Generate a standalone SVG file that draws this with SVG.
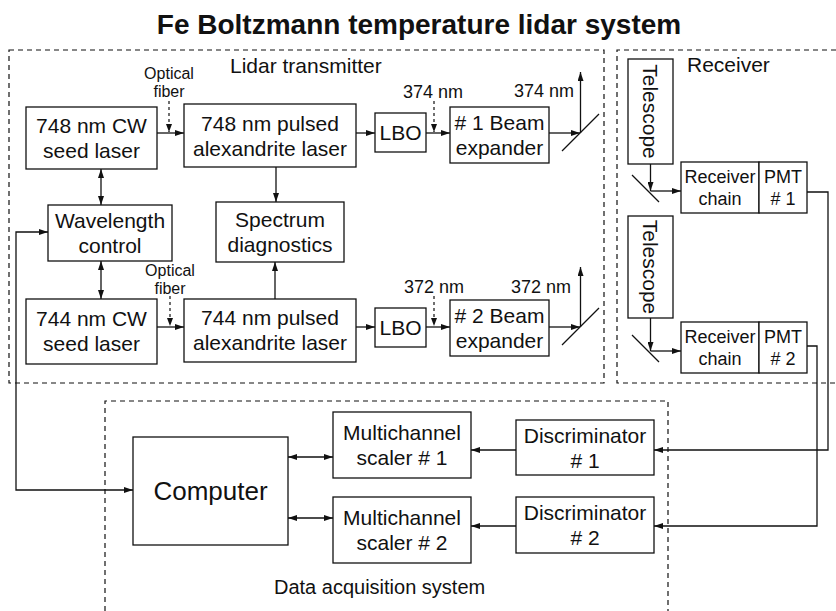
<svg xmlns="http://www.w3.org/2000/svg" width="836" height="611" viewBox="0 0 836 611">
<defs>
<marker id="ah" viewBox="0 0 9 6" refX="9" refY="3" markerWidth="9" markerHeight="6" markerUnits="userSpaceOnUse" orient="auto-start-reverse">
<path d="M0,0 L9,3 L0,6 z" fill="#111"/>
</marker>
<marker id="ahs" viewBox="0 0 8 6" refX="8" refY="3" markerWidth="8" markerHeight="6" markerUnits="userSpaceOnUse" orient="auto-start-reverse">
<path d="M0,0 L8,3 L0,6 z" fill="#111"/>
</marker>
</defs>
<style>
text{font-family:"Liberation Sans",Arial,sans-serif;fill:#111}
.t{font-size:21px;text-anchor:middle}
.s{font-size:18px;text-anchor:middle}
.f{font-size:16px;text-anchor:middle}
.lbl{font-size:21px}
.title{font-size:28px;font-weight:bold;text-anchor:middle}
.box{fill:#fff;stroke:#111;stroke-width:1.3}
.grp{fill:none;stroke:#111;stroke-width:1.2;stroke-dasharray:5,4}
.c{fill:none;stroke:#111;stroke-width:1.3}
.a{marker-end:url(#ah)}
.d{marker-start:url(#ah);marker-end:url(#ah)}
.fib{fill:none;stroke:#111;stroke-width:1.2;stroke-dasharray:3,3;marker-end:url(#ahs)}
.m{stroke:#111;stroke-width:1.3}
</style>
<rect width="836" height="611" fill="#fff"/>
<text class="title" x="419" y="34">Fe Boltzmann temperature lidar system</text>

<g id="groups">
<rect class="grp" x="9" y="50" width="595" height="333"/>
<path class="grp" d="M836,50 H617 V383 H836"/>
<path class="grp" d="M105,611 V401 H668 V611"/>
<text class="lbl" x="230" y="73">Lidar transmitter</text>
<text class="lbl" x="687" y="72">Receiver</text>
<text class="lbl" x="274" y="594" style="font-size:20px">Data acquisition system</text>
</g>

<g id="connectors">
<line class="c a" x1="157" y1="133" x2="184" y2="133"/>
<line class="fib" x1="169" y1="101" x2="169" y2="132"/>
<line class="c a" x1="356" y1="133" x2="375" y2="133"/>
<line class="c a" x1="426" y1="133" x2="450" y2="133"/>
<line class="fib" x1="434" y1="101" x2="434" y2="132"/>
<line class="c a" x1="549" y1="133" x2="580" y2="133"/>
<line class="c a" x1="580.5" y1="133" x2="580.5" y2="72"/>
<line class="m" x1="562" y1="151" x2="599" y2="114"/>
<line class="c d" x1="101" y1="169" x2="101" y2="205"/>
<line class="c a" x1="276" y1="167" x2="276" y2="202"/>
<line class="c d" x1="101" y1="261" x2="101" y2="299"/>
<line class="c a" x1="275" y1="299" x2="275" y2="262"/>
<line class="c a" x1="157" y1="327" x2="184" y2="327"/>
<line class="fib" x1="170" y1="296" x2="170" y2="326"/>
<line class="c a" x1="356" y1="327" x2="375" y2="327"/>
<line class="c a" x1="426" y1="327" x2="450" y2="327"/>
<line class="fib" x1="434" y1="296" x2="434" y2="326"/>
<line class="c a" x1="549" y1="327" x2="580" y2="327"/>
<line class="c a" x1="580.5" y1="327" x2="580.5" y2="267"/>
<line class="m" x1="562" y1="345" x2="599" y2="308"/>
<line class="c a" x1="650.5" y1="164" x2="650.5" y2="191"/>
<line class="m" x1="632" y1="175" x2="659" y2="202"/>
<line class="c a" x1="650.5" y1="191" x2="681" y2="191"/>
<line class="c a" x1="650.5" y1="318" x2="650.5" y2="351"/>
<line class="m" x1="632" y1="335" x2="659" y2="362"/>
<line class="c a" x1="650.5" y1="351" x2="681" y2="351"/>
<polyline class="c a" points="807,192 828,192 828,450 654,450"/>
<polyline class="c a" points="807,346 817,346 817,526 654,526"/>
<polyline class="c d" points="48,232 16,232 16,490 133,490"/>
<line class="c d" x1="288" y1="457" x2="333" y2="457"/>
<line class="c d" x1="288" y1="518" x2="333" y2="518"/>
<line class="c a" x1="516" y1="450" x2="471" y2="450"/>
<line class="c a" x1="516" y1="526" x2="471" y2="526"/>
<text class="f" x="169" y="79">Optical</text>
<text class="f" x="169" y="97">fiber</text>
<text class="f" x="170" y="276">Optical</text>
<text class="f" x="170" y="294">fiber</text>
<text class="s" x="433" y="98">374 nm</text>
<text class="s" x="544" y="97">374 nm</text>
<text class="s" x="434" y="293">372 nm</text>
<text class="s" x="541" y="293">372 nm</text>
</g>

<g id="seed748"><rect class="box" x="26" y="107" width="131" height="62"/><text class="t" x="91.5" y="133">748 nm CW</text><text class="t" x="91.5" y="158">seed laser</text></g>
<g id="pulsed748"><rect class="box" x="184" y="104" width="172" height="63"/><text class="t" x="270" y="131">748 nm pulsed</text><text class="t" x="270" y="156">alexandrite laser</text></g>
<g id="lbo1"><rect class="box" x="375" y="113" width="51" height="39"/><text class="t" x="400.5" y="140">LBO</text></g>
<g id="be1"><rect class="box" x="450" y="107" width="99" height="56"/><text class="t" x="499.5" y="130"># 1 Beam</text><text class="t" x="499.5" y="155">expander</text></g>
<g id="wavelength"><rect class="box" x="48" y="205" width="124" height="56"/><text class="t" x="110" y="228">Wavelength</text><text class="t" x="110" y="253">control</text></g>
<g id="spectrum"><rect class="box" x="216" y="202" width="128" height="60"/><text class="t" x="280" y="227">Spectrum</text><text class="t" x="280" y="252">diagnostics</text></g>
<g id="seed744"><rect class="box" x="26" y="299" width="131" height="65"/><text class="t" x="91.5" y="326">744 nm CW</text><text class="t" x="91.5" y="351">seed laser</text></g>
<g id="pulsed744"><rect class="box" x="184" y="299" width="172" height="63"/><text class="t" x="270" y="325">744 nm pulsed</text><text class="t" x="270" y="350">alexandrite laser</text></g>
<g id="lbo2"><rect class="box" x="375" y="308" width="51" height="39"/><text class="t" x="400.5" y="335">LBO</text></g>
<g id="be2"><rect class="box" x="450" y="300" width="99" height="56"/><text class="t" x="499.5" y="323"># 2 Beam</text><text class="t" x="499.5" y="348">expander</text></g>
<g id="telescope1"><rect class="box" x="628" y="59" width="45" height="105"/><text class="t" transform="translate(650.5,111.5) rotate(90)" x="0" y="7.5">Telescope</text></g>
<g id="telescope2"><rect class="box" x="628" y="216" width="45" height="102"/><text class="t" transform="translate(650.5,267) rotate(90)" x="0" y="7.5">Telescope</text></g>
<g id="rc1"><rect class="box" x="681" y="162" width="78" height="51"/><text class="s" x="720" y="183">Receiver</text><text class="s" x="720" y="205">chain</text></g>
<g id="pmt1"><rect class="box" x="759" y="162" width="48" height="51"/><text class="s" x="783" y="183">PMT</text><text class="s" x="783" y="205"># 1</text></g>
<g id="rc2"><rect class="box" x="681" y="322" width="78" height="51"/><text class="s" x="720" y="343">Receiver</text><text class="s" x="720" y="365">chain</text></g>
<g id="pmt2"><rect class="box" x="759" y="322" width="48" height="51"/><text class="s" x="783" y="343">PMT</text><text class="s" x="783" y="365"># 2</text></g>
<g id="computer"><rect class="box" x="133" y="437" width="155" height="108"/><text class="t" style="font-size:26px" x="210.5" y="500">Computer</text></g>
<g id="mcs1"><rect class="box" x="333" y="412" width="138" height="66"/><text class="t" x="402" y="440">Multichannel</text><text class="t" x="402" y="465">scaler # 1</text></g>
<g id="mcs2"><rect class="box" x="333" y="497" width="138" height="66"/><text class="t" x="402" y="525">Multichannel</text><text class="t" x="402" y="550">scaler # 2</text></g>
<g id="disc1"><rect class="box" x="516" y="420" width="138" height="55"/><text class="t" x="585" y="443">Discriminator</text><text class="t" x="585" y="468"># 1</text></g>
<g id="disc2"><rect class="box" x="516" y="497" width="138" height="56"/><text class="t" x="585" y="520">Discriminator</text><text class="t" x="585" y="545"># 2</text></g>
</svg>
